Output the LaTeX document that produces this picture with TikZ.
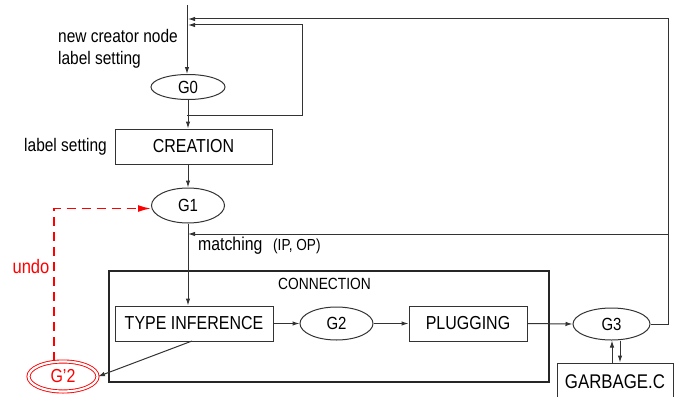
\documentclass[tikz,border=0pt]{standalone}
\usepackage{fontspec}
\setmainfont{Liberation Sans}[FakeStretch=0.85]
\usetikzlibrary{arrows.meta,shapes.geometric}
\newcommand{\fsz}[1]{\fontsize{#1}{#1}\selectfont}
\tikzset{
  ln/.style={draw=black!80, line width=1pt},
  arr/.style={ln, -{Latex[length=7pt,width=4.5pt]}},
  stbox/.style={draw=black!80, line width=1pt, rectangle, inner sep=0pt, font=\fsz{18.8}},
  stell/.style={draw=black!80, line width=1pt, ellipse, inner sep=0pt, font=\fsz{17.6}},
  lbl/.style={inner sep=0pt, font=\fsz{18.2}},
}
\begin{document}
\begin{tikzpicture}[x=1pt,y=-1pt]
\useasboundingbox (0,0) rectangle (676,396);
% nodes
\node[stell, minimum width=74pt, minimum height=25pt] (G0) at (188,87) {G0};
\node[stbox, minimum width=157pt, minimum height=35pt] (CRE) at (193.5,146.5) {CREATION};
\node[stell, minimum width=73pt, minimum height=35pt] (G1) at (188,205.5) {G1};
\node[stbox, minimum width=158pt, minimum height=35pt] (TI) at (194,323.5) {TYPE INFERENCE};
\node[stell, minimum width=73pt, minimum height=33pt] (G2) at (336.5,323.5) {G2};
\node[stbox, minimum width=118pt, minimum height=35pt] (PL) at (468,323.5) {PLUGGING};
\node[stell, minimum width=77pt, minimum height=32pt] (G3) at (611.5,324) {G3};
\node[stbox, minimum width=116pt, minimum height=37pt, font=\fsz{19.8}] (GB) at (615,381.5) {GARBAGE.C};
\node[draw=red, line width=0.9pt, double, double distance=2.2pt, ellipse, inner sep=0pt,
      minimum width=69pt, minimum height=30pt, text=red, font=\fsz{18.8}] (G2p) at (63,376.5) {G'2};
% connection frame
\draw[draw=black!85, line width=1.3pt] (109,271) rectangle (549,382);
\node[lbl, font=\fsz{16.2}] (CONN) at (324.5,284) {CONNECTION};
% texts
\node[lbl, anchor=west] (t1) at (58,36) {new creator node};
\node[lbl, anchor=west] (t2) at (58,60) {label setting};
\node[lbl, anchor=east] (t3) at (107,147) {label setting};
\node[lbl, anchor=west, font=\fsz{18.6}] (t4) at (198,246) {matching};
\node[lbl, anchor=west, font=\fsz{16}] (t5) at (273,246) {(IP, OP)};
\node[lbl, text=red, font=\fsz{19.5}] (undo) at (31,267) {undo};
% coordinates
\coordinate (top) at (187,5);
\coordinate (l1) at (187,115);
\coordinate (l2) at (302,25);
\coordinate (l3) at (188,25);
\coordinate (r1) at (668,19);
\coordinate (r2) at (188,19);
\coordinate (m1) at (668,234);
\coordinate (m2) at (188,234);
\coordinate (ti) at (192,341);
\coordinate (dstart) at (54,361);
% connectors
\draw[arr] (top) -- (top |- G0.north);
\draw[arr] (G0.south) -- (CRE.north -| G0.south);
\draw[arr] (l1) -| (l2) -- (l3);
\draw[arr] (G3.east) -| (r1) -- (r2);
\draw[arr] (m1) -- (m2);
\draw[arr] (CRE.south -| G1.north) -- (G1.north);
\draw[arr] (G1.south) -- (G1.south |- TI.north);
\draw[arr] (TI.east) -- (G2.west);
\draw[arr] (G2.east) -- (PL.west);
\draw[arr] (PL.east) -- (G3.west);
\draw[arr] (ti) -- (G2p.east);
\draw[arr] ([xshift=-3pt]GB.north) -- ([xshift=-3pt]GB.north |- G3.south);
\draw[arr] ([xshift=5pt]GB.north |- G3.south) -- ([xshift=5pt]GB.north);
\draw[draw=red, line width=1.6pt, dash pattern=on 9pt off 6pt, -{Latex[length=13pt,width=7pt]}]
  (dstart) |- ([yshift=-3pt]G1.west);
\end{tikzpicture}
\end{document}
